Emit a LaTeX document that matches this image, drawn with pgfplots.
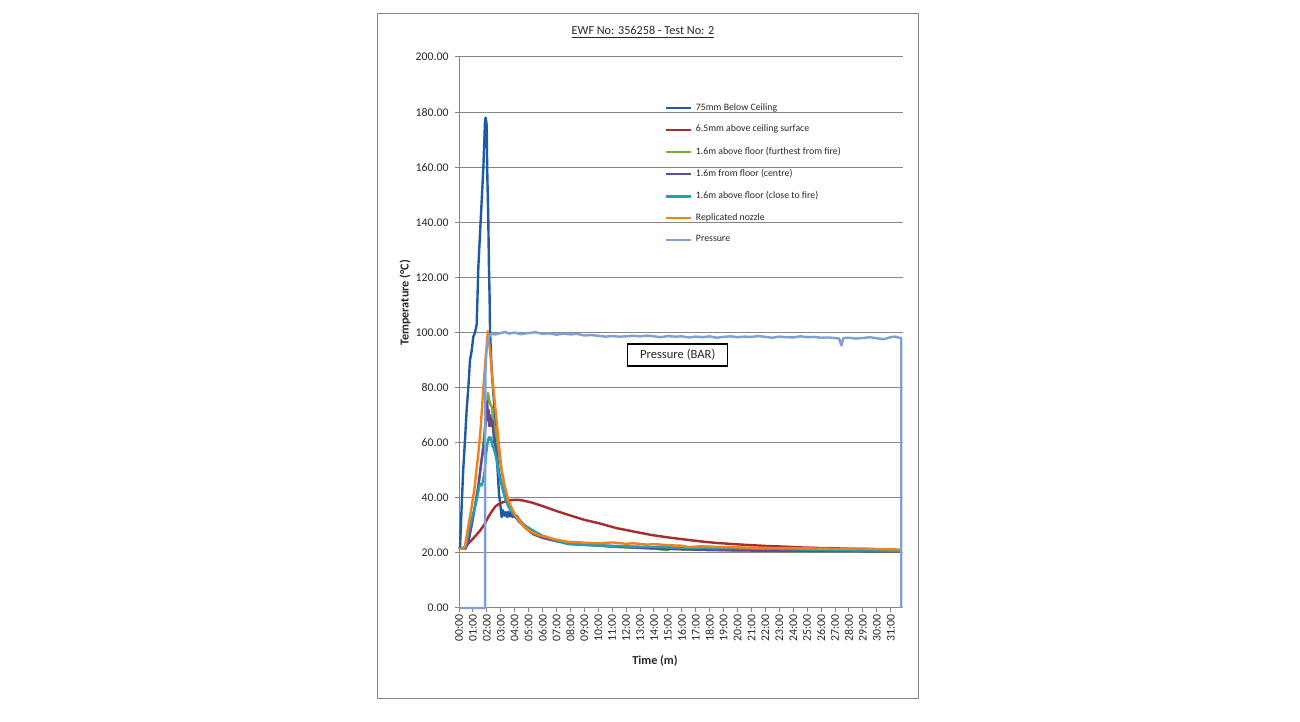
\documentclass[border=0pt]{standalone}
\usepackage{pgfplots}
\pgfplotsset{compat=1.18}
\usepackage{fontspec}
\setmainfont{Carlito}
\definecolor{cBlue}{RGB}{31,91,165}
\definecolor{cRed}{RGB}{168,44,44}
\definecolor{cGreen}{RGB}{122,170,60}
\definecolor{cPurple}{RGB}{104,70,150}
\definecolor{cCyan}{RGB}{35,160,180}
\definecolor{cOrange}{RGB}{240,130,30}
\definecolor{cPress}{RGB}{127,160,210}
\definecolor{cGrid}{RGB}{134,134,134}
\definecolor{cText}{RGB}{40,40,40}
\begin{document}
\begin{tikzpicture}[x=1pt,y=1pt]
\path[fill=white] (0,0) rectangle (650,361);
\draw[color=cGrid, line width=0.5pt] (188.5,11.5) rectangle (459,354);
\node[font=\fontsize{6.1}{7}\selectfont, text=cText] at (321.5,345) {\underline{EWF No: 356258 - Test No: 2}};
\node[font=\bfseries\fontsize{6.1}{7}\selectfont, text=cText, rotate=90] at (202.5,209.5) {Temperature (°C)};
\node[font=\bfseries\fontsize{6.1}{7}\selectfont, text=cText] at (327.5,30.5) {Time (m)};
\begin{axis}[
  at={(229.5pt,57pt)}, anchor=south west,
  scale only axis, width=222pt, height=275.5pt,
  xmin=0, xmax=31.88, ymin=0, ymax=200,
  axis x line=bottom, axis y line=left, axis line style={-, color=cGrid, line width=0.5pt},
  ytick={0,20,...,200}, ymajorgrids, grid style={color=cGrid, line width=0.5pt},
  xtick={0,1,...,31},
  xticklabels={00:00,01:00,02:00,03:00,04:00,05:00,06:00,07:00,08:00,09:00,10:00,11:00,12:00,13:00,14:00,15:00,16:00,17:00,18:00,19:00,20:00,21:00,22:00,23:00,24:00,25:00,26:00,27:00,28:00,29:00,30:00,31:00},
  xticklabel style={rotate=90, anchor=east, inner sep=1pt},
  tick align=outside, major tick length=2pt, tick style={color=cGrid, line width=0.5pt},
  /pgf/number format/assume math mode=true,
  yticklabel style={/pgf/number format/fixed, /pgf/number format/fixed zerofill, /pgf/number format/precision=2, inner sep=1pt, xshift=-2pt},
  tick label style={font=\fontsize{5.9}{7}\selectfont, text=cText},
  legend style={at={(0.462,0.924)}, anchor=north west, draw=none, fill=none, font=\fontsize{4.9}{5.5}\selectfont, row sep=2pt, inner sep=0pt, text=cText},
  legend cell align=left,
  legend image code/.code={\draw[#1, line width=1.2pt] (0pt,0pt) -- (12.5pt,0pt);},
  every axis plot/.append style={line width=1.2pt, line join=round},
  clip=false,
]
\addplot[color=cBlue] coordinates {
(0,21.5)(0.07,22)(0.12,28)(0.2,38)(0.3,50)(0.43,61)(0.55,72)(0.67,80)(0.79,90)(0.9,93)(1.03,98.5)(1.15,100)(1.27,103)(1.39,124)(1.51,136)(1.63,148)(1.75,160)(1.87,177)(1.92,178)(1.99,175)(2.02,160)(2.1,142)(2.15,124)(2.2,112)(2.23,100)(2.35,86)(2.54,73)(2.7,56)(2.87,41.6)(3.0,36)(3.06,33)(3.15,35.5)(3.25,33.5)(3.35,34.8)(3.45,33)(3.55,35)(3.65,33.2)(3.75,34.6)(3.85,33)(3.95,34)(4.05,33)(4.15,33.5)(4.3,32.2)(4.6,30.4)(5,29)(6,26.1)(7,24.4)(8,23.2)(10,22.7)(14,21.9)(20,21.3)(31.75,20.8)};
\addlegendentry{75mm Below Ceiling}
\addplot[color=cRed] coordinates {
(0,21.5)(0.4,22)(0.8,24)(1.15,26)(1.5,28)(1.87,30.7)(2.1,33)(2.35,35)(2.6,36.8)(2.82,37.6)(3.2,38.5)(3.54,39)(4.0,39.3)(4.26,39.3)(4.6,39)(5.2,38.3)(6,37)(7,35.2)(7.73,34)(9,32)(10.1,30.7)(11.3,29)(12.5,27.8)(13.7,26.6)(14.9,25.7)(16,25)(17.3,24.2)(18.5,23.6)(19.7,23.2)(21,22.8)(22.1,22.5)(23.3,22.3)(24.5,22)(25.7,21.8)(26.9,21.7)(28,21.5)(29.5,21.3)(30.5,21.2)(31.75,21)};
\addlegendentry{6.5mm above ceiling surface}
\addplot[color=cGreen] coordinates {
(0,21.5)(0.45,21.5)(0.55,23)(0.67,25)(0.9,30)(1.15,37)(1.4,45)(1.63,54)(1.8,62)(2.0,73)(2.08,78)(2.15,76)(2.25,74)(2.35,73)(2.5,67)(2.7,62)(2.9,55)(3.06,50)(3.3,43)(3.54,38)(3.9,34)(4.3,31.5)(4.8,29)(5.33,26.7)(6,25.5)(7,24.2)(7.73,23.5)(9,23)(10,22.6)(11,22.2)(12,22)(13,21.8)(14,21.6)(14.9,21)(15.3,21.6)(16,21.3)(18,21)(20,20.9)(22,20.8)(24,20.7)(26,20.6)(28,20.6)(30,20.5)(31.75,20.5)};
\addlegendentry{1.6m above floor (furthest from fire)}
\addplot[color=cPurple] coordinates {
(0,21.5)(0.45,21.5)(0.67,23.6)(0.9,30)(1.15,37)(1.39,44)(1.6,53)(1.75,58)(1.87,64.6)(1.95,70)(2.02,75)(2.08,68)(2.12,72)(2.18,66)(2.25,70)(2.32,66)(2.4,68)(2.5,62)(2.6,58)(2.7,56)(2.85,50)(3.0,46)(3.2,42)(3.5,38)(3.9,34)(4.3,31.5)(4.8,29)(5.3,27)(6,25.5)(7,24.3)(8,23.6)(10,22.7)(12,22.1)(14,21.6)(16,21.3)(18,21.1)(20,20.9)(24,20.7)(28,20.6)(31.75,20.5)};
\addlegendentry{1.6m from floor (centre)}
\addplot[color=cCyan] coordinates {
(0,21.5)(0.4,21.5)(0.5,23)(0.7,28)(0.9,32)(1.15,36.8)(1.3,40)(1.45,44)(1.55,45)(1.65,44.5)(1.75,47)(1.85,50)(1.95,56)(2.05,60)(2.15,62)(2.23,61)(2.3,62)(2.38,59)(2.46,58.5)(2.6,56)(2.7,53.7)(2.85,49)(3.06,45)(3.3,40)(3.54,36.8)(3.85,34.5)(4.14,33)(4.6,30.5)(5.2,28.3)(6,26.2)(7,24.5)(7.73,23.3)(9,22.9)(10.5,22.6)(12.5,22.3)(15,22)(17,21.8)(19.7,21.7)(22,21.5)(24,21.3)(26.9,21)(29,20.9)(31.75,20.8)};
\addlegendentry{1.6m above floor (close to fire)}
\addplot[color=cOrange] coordinates {
(0,21.5)(0.3,21.5)(0.43,22.5)(0.6,28)(0.75,32)(0.91,36.8)(1.1,43)(1.25,50)(1.39,56)(1.55,65)(1.75,80)(1.9,90)(2.0,96)(2.07,100.5)(2.15,97)(2.25,92)(2.35,86)(2.5,78)(2.7,68)(2.85,60)(3.06,50)(3.3,44)(3.54,39)(3.9,35)(4.26,32)(4.7,29.5)(5.2,27.5)(5.7,26.5)(6.17,25.9)(7,24.8)(7.73,24.1)(9,23.7)(10,23.5)(11,23.8)(12,23.3)(12.5,23.5)(13.5,23)(14,23.2)(15,22.8)(16,22.6)(16.5,22.1)(17.3,22.4)(18.5,22.2)(20,22)(22.1,21.8)(24,21.7)(26.9,21.5)(29,21.6)(30,21.4)(31.75,21.2)};
\addlegendentry{Replicated nozzle}
\addplot[color=cPress] coordinates {
(0,0)(1.87,0)(1.87,60)(1.9,85)(1.95,92)(2.05,97)(2.15,98.5)(2.3,99.5)(2.6,99.3)(3,99.8)(3.3,100.2)(3.6,99.6)(4,100)(4.4,99.4)(5,99.8)(5.5,100.1)(6,99.5)(6.5,99.7)(7,99.2)(7.5,99.6)(8,99.3)(8.5,99.5)(9,98.9)(9.5,99.1)(10,98.8)(10.5,98.5)(11,98.7)(11.5,98.5)(12,98.6)(12.5,98.8)(13,98.6)(13.5,98.9)(14,98.6)(14.5,98.3)(15,98.7)(15.5,98.5)(16,98.6)(16.5,98.2)(17,98.5)(17.5,98.3)(18,98.6)(18.5,98.1)(19,98.4)(19.5,98.6)(20,98.3)(20.5,98.5)(21,98.4)(21.5,98.7)(22,98.4)(22.5,98.1)(23,98.5)(23.5,98.3)(24,98.2)(24.5,98.6)(25,98.3)(25.5,98.4)(26,98.1)(26.5,98.2)(27,98)(27.3,97.8)(27.45,95.3)(27.6,98)(28,98.1)(28.5,97.8)(29,98)(29.5,98.3)(30,97.9)(30.5,97.6)(31,98.3)(31.3,98.5)(31.6,98.1)(31.75,98)(31.75,0)};
\addlegendentry{Pressure}
\node[draw=black, line width=0.6pt, fill=white, minimum width=50pt, minimum height=11pt, inner sep=1pt, font=\fontsize{6.3}{7}\selectfont, text=cText] at (axis cs:15.7,91.8) {Pressure (BAR)};
\end{axis}
\end{tikzpicture}
\end{document}
